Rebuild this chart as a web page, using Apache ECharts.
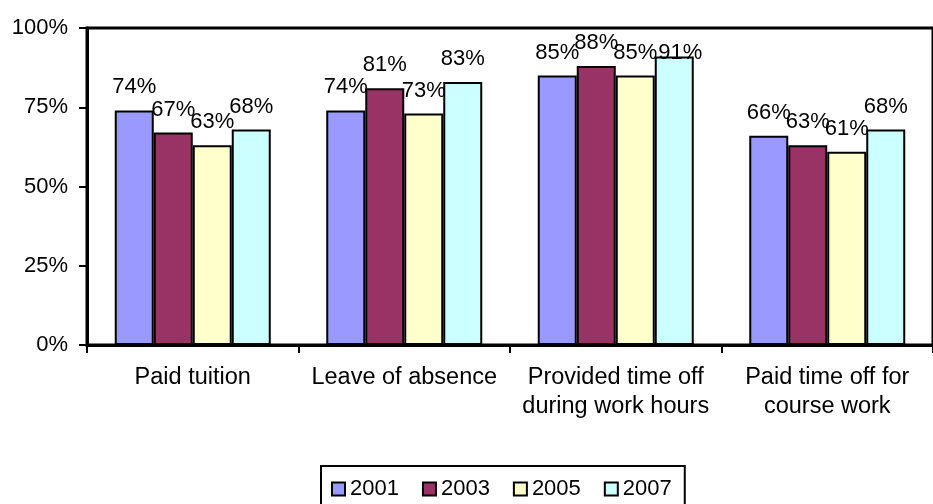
<!DOCTYPE html>
<html>
<head>
<meta charset="utf-8">
<script src="https://cdn.jsdelivr.net/npm/echarts@6/dist/echarts.min.js"></script>
<style>
html,body{margin:0;padding:0;background:#fff;}
#chart{width:933px;height:504px;}
</style>
</head>
<body>
<div id="chart"></div>
<script>
var categories = ['Paid tuition', 'Leave of absence', 'Provided time off\nduring work hours', 'Paid time off for\ncourse work'];
var seriesNames = ['2001', '2003', '2005', '2007'];
var values2001 = [74, 74, 85, 66];
var values2003 = [67, 81, 88, 63];
var values2005 = [63, 73, 85, 61];
var values2007 = [68, 83, 91, 68];
var colors = ['#9999FF', '#993366', '#FFFFCC', '#CCFFFF'];
var yTicks = [0, 25, 50, 75, 100];

var FONT = '"Liberation Sans", Arial, sans-serif';
var allValues = [values2001, values2003, values2005, values2007];

var chart = echarts.init(document.getElementById('chart'), null, {renderer: 'canvas'});
chart.setOption({
  animation: false,
  backgroundColor: '#fff',
  grid: {
    left: 87, top: 28, right: -10, bottom: 159,
    show: true, borderColor: '#000', borderWidth: 3, backgroundColor: 'transparent'
  },
  legend: {
    data: seriesNames,
    left: 321, top: 466,
    padding: [12, 13, 20, 10],
    borderColor: '#000', borderWidth: 2,
    itemWidth: 13, itemHeight: 13, itemGap: 23,
    icon: 'rect',
    itemStyle: {borderColor: '#000', borderWidth: 2},
    textStyle: {fontFamily: FONT, fontSize: 22, color: '#000'}
  },
  xAxis: {
    type: 'category',
    data: categories,
    axisLine: {lineStyle: {color: '#000', width: 3}},
    axisTick: {show: true, length: 8, lineStyle: {color: '#000', width: 2}},
    axisLabel: {fontFamily: FONT, fontSize: 23.5, color: '#000', margin: 18, lineHeight: 29, interval: 0},
    splitLine: {show: false}
  },
  yAxis: {
    type: 'value',
    min: yTicks[0], max: yTicks[yTicks.length - 1], interval: 25,
    axisLine: {show: true, lineStyle: {color: '#000', width: 3}},
    axisTick: {show: true, length: 8, lineStyle: {color: '#000', width: 2}},
    axisLabel: {fontFamily: FONT, fontSize: 22, color: '#000', margin: 19, formatter: '{value}%'},
    splitLine: {show: false}
  },
  series: seriesNames.map(function (name, i) {
    return {
      name: name,
      type: 'bar',
      data: allValues[i].map(function (v) {
        // keep labels of the tallest bars inside the plot area
        return v > 89 ? {value: v, label: {offset: [6, 19]}} : v;
      }),
      barWidth: 39,
      barGap: '0%',
      itemStyle: {color: colors[i], borderColor: '#000', borderWidth: 2},
      label: {
        show: true, position: 'top', distance: 12,
        formatter: '{c}%',
        fontFamily: FONT, fontSize: 22, color: '#000'
      }
    };
  })
});
</script>
</body>
</html>
